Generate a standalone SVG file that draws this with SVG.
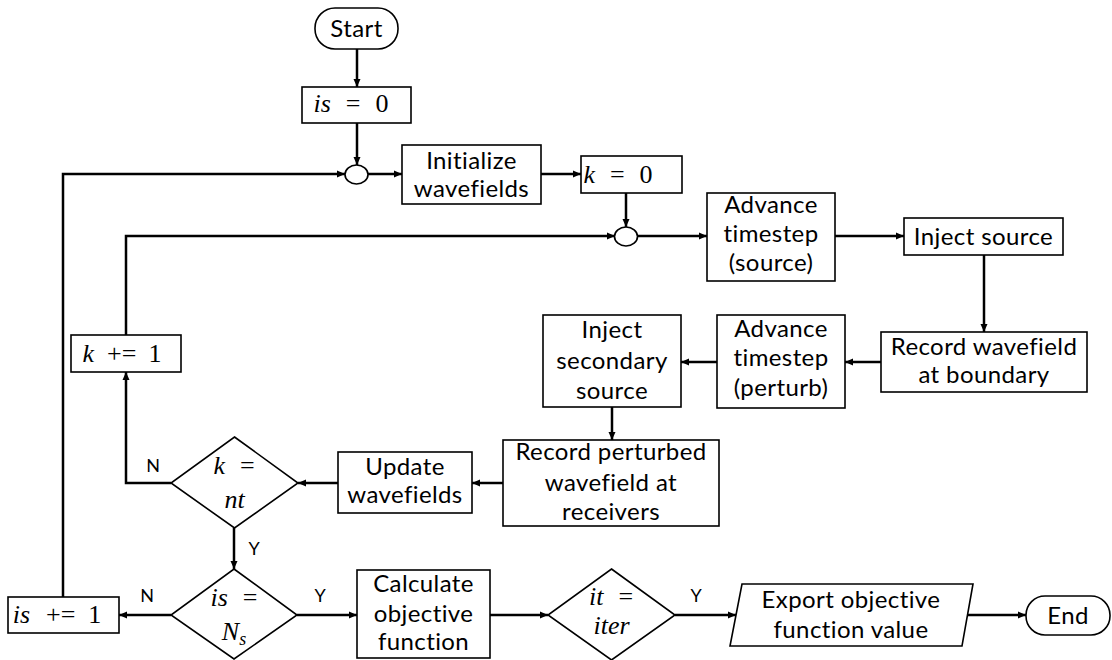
<svg xmlns="http://www.w3.org/2000/svg" width="1112" height="660" viewBox="0 0 1112 660">
<style>
.box{fill:#fff;stroke:#000;stroke-width:1.6}
.t{font-family:Lato,"Liberation Sans",sans-serif;font-size:24px;letter-spacing:0.4px;fill:#000;text-anchor:middle}
.m{font-family:"Liberation Serif",serif;font-size:26px;fill:#000;text-anchor:middle}
.i{font-style:italic}
.lbl{font-family:Lato,"Liberation Sans",sans-serif;font-size:18px;fill:#000;text-anchor:middle}
.c{fill:none;stroke:#000;stroke-width:2.5}
</style>
<defs>
<marker id="ah" markerUnits="userSpaceOnUse" markerWidth="9" markerHeight="8" refX="8" refY="4" orient="auto">
<path d="M0,0.5 L8,4 L0,7.5 z" fill="#000"/>
</marker>
</defs>
<rect width="1112" height="660" fill="#fff"/>
<g id="connectors">
<path class="c" d="M357,49 V87" marker-end="url(#ah)"/>
<path class="c" d="M357,123 V165" marker-end="url(#ah)"/>
<path class="c" d="M368,174 H402" marker-end="url(#ah)"/>
<path class="c" d="M541,174 H581" marker-end="url(#ah)"/>
<path class="c" d="M626,193 V227" marker-end="url(#ah)"/>
<path class="c" d="M637,236 H707" marker-end="url(#ah)"/>
<path class="c" d="M835,236 H904" marker-end="url(#ah)"/>
<path class="c" d="M984,255 V332" marker-end="url(#ah)"/>
<path class="c" d="M881,362 H845" marker-end="url(#ah)"/>
<path class="c" d="M717,362 H681" marker-end="url(#ah)"/>
<path class="c" d="M612,407 V440" marker-end="url(#ah)"/>
<path class="c" d="M503,483 H472" marker-end="url(#ah)"/>
<path class="c" d="M338,483 H298" marker-end="url(#ah)"/>
<path class="c" d="M171,483 H126 V372" marker-end="url(#ah)"/>
<path class="c" d="M126,335 V236 H615" marker-end="url(#ah)"/>
<path class="c" d="M234,528 V569" marker-end="url(#ah)"/>
<path class="c" d="M171,615 H119" marker-end="url(#ah)"/>
<path class="c" d="M63,597 V174 H345" marker-end="url(#ah)"/>
<path class="c" d="M297,615 H357" marker-end="url(#ah)"/>
<path class="c" d="M490,615 H548" marker-end="url(#ah)"/>
<path class="c" d="M675,615 H736" marker-end="url(#ah)"/>
<path class="c" d="M967,615 H1026" marker-end="url(#ah)"/>
<text class="lbl" x="153" y="472">N</text>
<text class="lbl" x="254" y="555">Y</text>
<text class="lbl" x="147" y="602">N</text>
<text class="lbl" x="320" y="602">Y</text>
<text class="lbl" x="696" y="602">Y</text>
</g>
<g id="start">
<rect class="box" x="315" y="8" width="83" height="41" rx="20"/>
<text class="t" x="356.5" y="37">Start</text>
</g>
<g id="is0">
<rect class="box" x="302" y="87" width="109" height="36"/>
<text class="m" x="351" y="112"><tspan class="i">is</tspan><tspan dx="15">=</tspan><tspan dx="15">0</tspan></text>
</g>
<g id="merge1">
<ellipse class="box" cx="356.5" cy="174.5" rx="11.5" ry="9.5"/>
</g>
<g id="init">
<rect class="box" x="402" y="145" width="139" height="59"/>
<text class="t" x="471.5" y="169">Initialize</text>
<text class="t" x="471.5" y="197">wavefields</text>
</g>
<g id="k0">
<rect class="box" x="581" y="156" width="101" height="37"/>
<text class="m" x="618" y="183"><tspan class="i">k</tspan><tspan dx="15">=</tspan><tspan dx="15">0</tspan></text>
</g>
<g id="merge2">
<ellipse class="box" cx="626" cy="236.5" rx="11.5" ry="9.5"/>
</g>
<g id="advsrc">
<rect class="box" x="707" y="193" width="128" height="88"/>
<text class="t" x="771" y="213">Advance</text>
<text class="t" x="771" y="242">timestep</text>
<text class="t" x="771" y="271">(source)</text>
</g>
<g id="injsrc">
<rect class="box" x="904" y="218" width="159" height="37"/>
<text class="t" x="983.5" y="245">Inject source</text>
</g>
<g id="recbnd">
<rect class="box" x="881" y="332" width="206" height="60"/>
<text class="t" x="984" y="355">Record wavefield</text>
<text class="t" x="984" y="383">at boundary</text>
</g>
<g id="advpert">
<rect class="box" x="717" y="315" width="128" height="93"/>
<text class="t" x="781" y="337">Advance</text>
<text class="t" x="781" y="366">timestep</text>
<text class="t" x="781" y="396">(perturb)</text>
</g>
<g id="injsec">
<rect class="box" x="543" y="315" width="138" height="92"/>
<text class="t" x="612" y="338">Inject</text>
<text class="t" x="612" y="369">secondary</text>
<text class="t" x="612" y="399">source</text>
</g>
<g id="recpert">
<rect class="box" x="503" y="440" width="216" height="86"/>
<text class="t" x="611" y="460">Record perturbed</text>
<text class="t" x="611" y="491">wavefield at</text>
<text class="t" x="611" y="520">receivers</text>
</g>
<g id="update">
<rect class="box" x="338" y="452" width="134" height="61"/>
<text class="t" x="405" y="475">Update</text>
<text class="t" x="405" y="503">wavefields</text>
</g>
<g id="knt">
<polygon class="box" points="234.5,437 298,483 234.5,528 171,483"/>
<text class="m" x="234" y="474"><tspan class="i">k</tspan><tspan dx="15">=</tspan></text>
<text class="m i" x="234.5" y="508">nt</text>
</g>
<g id="kinc">
<rect class="box" x="71" y="335" width="110" height="37"/>
<text class="m" x="122" y="362"><tspan class="i">k</tspan><tspan dx="13">+=</tspan><tspan dx="12">1</tspan></text>
</g>
<g id="isns">
<polygon class="box" points="234,569 297,615 234,659 171,615"/>
<text class="m" x="234" y="606"><tspan class="i">is</tspan><tspan dx="15">=</tspan></text>
<text class="m i" x="234" y="640">N<tspan font-size="18" dy="5">s</tspan></text>
</g>
<g id="isinc">
<rect class="box" x="8" y="597" width="111" height="36"/>
<text class="m" x="57" y="623"><tspan class="i">is</tspan><tspan dx="16">+=</tspan><tspan dx="13">1</tspan></text>
</g>
<g id="calc">
<rect class="box" x="357" y="570" width="133" height="88"/>
<text class="t" x="423.5" y="592">Calculate</text>
<text class="t" x="423.5" y="622">objective</text>
<text class="t" x="423.5" y="650">function</text>
</g>
<g id="ititer">
<polygon class="box" points="611.5,569 675,615 611.5,660 548,615"/>
<text class="m" x="611" y="605"><tspan class="i">it</tspan><tspan dx="15">=</tspan></text>
<text class="m i" x="611.5" y="634">iter</text>
</g>
<g id="export">
<polygon class="box" points="742,584 973,584 962,646 730,646"/>
<text class="t" x="851" y="608">Export objective</text>
<text class="t" x="851" y="638">function value</text>
</g>
<g id="end">
<rect class="box" x="1026" y="596" width="84" height="39" rx="19"/>
<text class="t" x="1068" y="624">End</text>
</g>
</svg>
